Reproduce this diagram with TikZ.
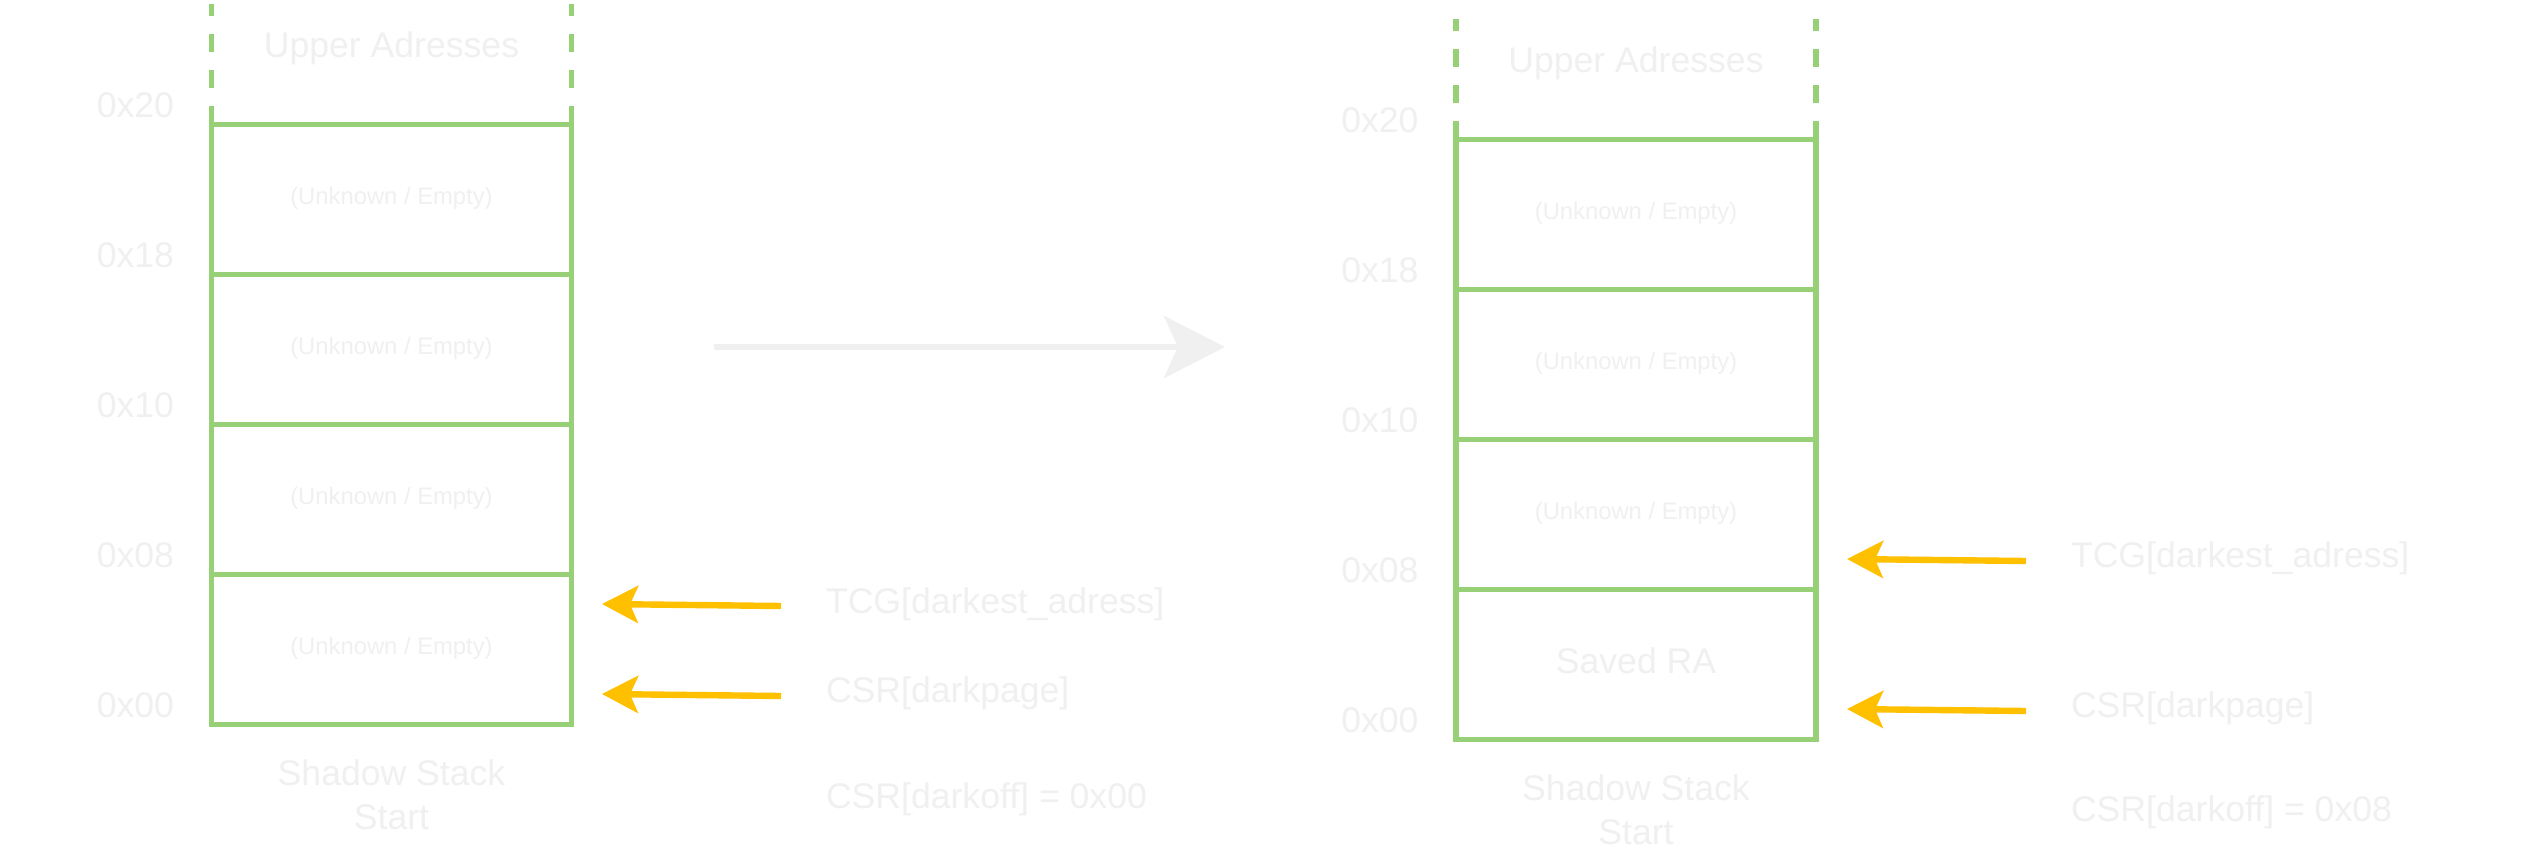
\documentclass[tikz,border=0pt]{standalone}
\usepackage{fontspec}
\setmainfont{Liberation Sans}
\usetikzlibrary{arrows.meta}
\definecolor{grn}{HTML}{97D077}
\definecolor{ylw}{HTML}{FFC000}
\definecolor{txt}{HTML}{F0F0F0}
\begin{document}
\begin{tikzpicture}[x=0.5pt,y=-0.5pt,
  cell/.style={draw=grn, line width=2.85pt, minimum width=180pt, minimum height=75pt, inner sep=0pt, outer sep=0pt},
  dashside/.style={draw=grn, line width=2.85pt, dash pattern=on 9pt off 9pt},
  big/.style={text=txt, font=\fontsize{17.8}{22}\selectfont, inner sep=0pt, outer sep=0pt},
  small/.style={text=txt, font=\fontsize{11.9}{14}\selectfont, inner sep=0pt, outer sep=0pt},
  ptr/.style={draw=ylw, line width=3.2pt, -{Stealth[length=18pt, width=18.5pt, inset=4pt]}},
  bigarrow/.style={draw=txt, line width=3pt, -{Stealth[length=30.5pt, width=31pt, inset=7pt]}}
]
\fill[white] (0,0) rectangle (2538,861);
\useasboundingbox (0,0) rectangle (2538,861);

% ---------- left stack ----------
\node[cell] (L1) at (391.5,199.5) {};
\node[cell] (L2) at (391.5,349.5) {};
\node[cell] (L3) at (391.5,499.5) {};
\node[cell] (L4) at (391.5,649.5) {};
\coordinate (LTl) at (211.5,4.5);
\coordinate (LTr) at (571.5,4.5);
\draw[dashside] (L1.north west) -- (LTl);
\draw[dashside] (L1.north east) -- (LTr);
\node[big, anchor=base] (Lup) at (391.5,57.5) {Upper Adresses};
\node[small, anchor=base] (L1t) at (391.5,204.5) {(Unknown / Empty)};
\node[small, anchor=base] (L2t) at (391.5,354.5) {(Unknown / Empty)};
\node[small, anchor=base] (L3t) at (391.5,504.5) {(Unknown / Empty)};
\node[small, anchor=base] (L4t) at (391.5,654.5) {(Unknown / Empty)};
\node[big, anchor=base east] (La20) at (174,117.5) {0x20};
\node[big, anchor=base east] (La18) at (174,267.5) {0x18};
\node[big, anchor=base east] (La10) at (174,417.5) {0x10};
\node[big, anchor=base east] (La08) at (174,567.5) {0x08};
\node[big, anchor=base east] (La00) at (174,717.5) {0x00};
\node[big, anchor=base] (Lss1) at (391.5,785.5) {Shadow Stack};
\node[big, anchor=base] (Lss2) at (391.5,829.5) {Start};
\coordinate (Lp1s) at (781,606);
\coordinate (Lp1e) at (602,604);
\coordinate (Lp2s) at (781,696);
\coordinate (Lp2e) at (602,694);
\draw[ptr] (Lp1s) -- (Lp1e);
\draw[ptr] (Lp2s) -- (Lp2e);
\node[big, anchor=base west] (Ltcg) at (826,613) {TCG[darkest\_adress]};
\node[big, anchor=base west] (Lcsr) at (826,702) {CSR[darkpage]};
\node[big, anchor=base west] (Loff) at (826,808) {CSR[darkoff] = 0x00};

% ---------- transition arrow ----------
\coordinate (As) at (714,347);
\coordinate (Ae) at (1225,347);
\draw[bigarrow] (As) -- (Ae);

% ---------- right stack ----------
\node[cell] (R1) at (1636,214.5) {};
\node[cell] (R2) at (1636,364.5) {};
\node[cell] (R3) at (1636,514.5) {};
\node[cell] (R4) at (1636,664.5) {};
\coordinate (RTl) at (1456,19.5);
\coordinate (RTr) at (1816,19.5);
\draw[dashside] (R1.north west) -- (RTl);
\draw[dashside] (R1.north east) -- (RTr);
\node[big, anchor=base] (Rup) at (1636,72.5) {Upper Adresses};
\node[small, anchor=base] (R1t) at (1636,219.5) {(Unknown / Empty)};
\node[small, anchor=base] (R2t) at (1636,369.5) {(Unknown / Empty)};
\node[small, anchor=base] (R3t) at (1636,519.5) {(Unknown / Empty)};
\node[big, anchor=base] (R4t) at (1636,673.5) {Saved RA};
\node[big, anchor=base east] (Ra20) at (1418.5,132.5) {0x20};
\node[big, anchor=base east] (Ra18) at (1418.5,282.5) {0x18};
\node[big, anchor=base east] (Ra10) at (1418.5,432.5) {0x10};
\node[big, anchor=base east] (Ra08) at (1418.5,582.5) {0x08};
\node[big, anchor=base east] (Ra00) at (1418.5,732.5) {0x00};
\node[big, anchor=base] (Rss1) at (1636,800.5) {Shadow Stack};
\node[big, anchor=base] (Rss2) at (1636,844.5) {Start};
\coordinate (Rp1s) at (2026,561);
\coordinate (Rp1e) at (1847,559);
\coordinate (Rp2s) at (2026,711);
\coordinate (Rp2e) at (1847,709);
\draw[ptr] (Rp1s) -- (Rp1e);
\draw[ptr] (Rp2s) -- (Rp2e);
\node[big, anchor=base west] (Rtcg) at (2071,567) {TCG[darkest\_adress]};
\node[big, anchor=base west] (Rcsr) at (2071,717) {CSR[darkpage]};
\node[big, anchor=base west] (Roff) at (2071,821) {CSR[darkoff] = 0x08};
\end{tikzpicture}
\end{document}
